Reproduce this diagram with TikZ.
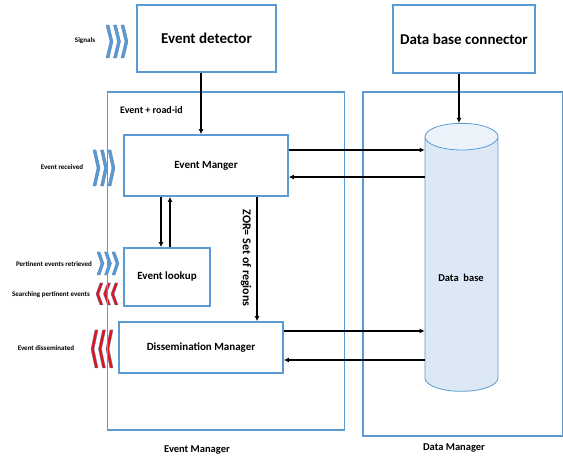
\documentclass[tikz,border=0pt]{standalone}
\usepackage{fontspec}
\setmainfont{Carlito}
\usetikzlibrary{arrows.meta,shapes.geometric}

\definecolor{frameblue}{HTML}{5B9BD5}
\definecolor{sigblue}{HTML}{5B9BD5}
\definecolor{sigred}{HTML}{E3141C}
\definecolor{sigedge}{HTML}{4A78B0}
\definecolor{dbbody}{HTML}{DCE8F5}
\definecolor{dbtop}{HTML}{EBF2FA}

\begin{document}
\begin{tikzpicture}
[x=1pt,y=-1pt,
  boxdecorate/.style={shape=rectangle,draw=frameblue,line width=1.8pt,fill=white,
    font=\bfseries\fontsize{11}{13}\selectfont},%
  bigboxdecorate/.style={boxdecorate,font=\bfseries\fontsize{15}{18}\selectfont},%
  framedecorate/.style={draw=frameblue,line width=1.8pt},%
  linedecorate/.style={-{Latex[length=5pt,width=5pt]},line width=2pt},%
  tagdecorate/.style={font=\bfseries\fontsize{7}{8}\selectfont,inner sep=0pt},%
  textdecorate/.style={font=\bfseries\fontsize{11}{13}\selectfont,inner sep=0pt}]
\useasboundingbox (0,0) rectangle (563,462);
%% signal chevrons
\foreach \x/\y/\h/\s/\c in {106/41.5/16.5/1/sigblue, 93/168/18/1/sigblue,
  97/263.5/11.5/1/sigblue, 96/294/11/-1/sigred, 91/349/19/-1/sigred} {
  \foreach \k in {0,1,2} {
    \pgfmathsetmacro\xc{\x+3.5+7.5*\k}
    \filldraw[fill=\c,draw=sigedge,line width=0.3pt]
      ({\xc-3.5*\s},{\y-\h}) -- ({\xc-0.5*\s},{\y-\h}) -- ({\xc+3.5*\s},\y)
      -- ({\xc-0.5*\s},{\y+\h}) -- ({\xc-3.5*\s},{\y+\h}) -- ({\xc+0.5*\s},\y) -- cycle;
  }
}
%% outer frames
\node (emframe) at (226,261) [framedecorate,minimum width=237pt,minimum height=338pt] {};
\node (dmframe) at (463,264) [framedecorate,minimum width=200pt,minimum height=344pt] {};
\node (emtitle) at (197,450) [textdecorate,font=\bfseries\fontsize{10.5}{12}\selectfont] {Event Manager};
\node (dmtitle) at (454,448) [textdecorate,font=\bfseries\fontsize{10.5}{12}\selectfont] {Data Manager};
%% boxes
\node (detector) at (206.5,38.5) [bigboxdecorate,minimum width=139pt,minimum height=67pt] {Event detector};
\node (connector) at (464,39) [bigboxdecorate,minimum width=142pt,minimum height=68pt] {Data base connector};
\node (manger) at (206,165.5) [boxdecorate,minimum width=164pt,minimum height=61pt] {Event Manger};
\node (lookup) at (167,277) [boxdecorate,minimum width=86pt,minimum height=58pt] {Event lookup};
\node (dissem) at (201,347.5) [boxdecorate,minimum width=164pt,minimum height=51pt] {Dissemination Manager};
\node (db) at (461.5,267) [cylinder,shape border rotate=90,draw=frameblue,line width=0.8pt,
  cylinder uses custom fill,cylinder body fill=dbbody,cylinder end fill=dbtop,
  aspect=4,minimum width=73pt,minimum height=268pt] {};
\node (dbtext) at (461,278) [textdecorate,font=\bfseries\fontsize{10.5}{12}\selectfont] {Data\ \ base};
%% texts
\node (roadid) at (120,110) [textdecorate,anchor=west,font=\bfseries\fontsize{10}{12}\selectfont] {Event + road-id};
\node (signals) at (85,41) [tagdecorate] {Signals};
\node (received) at (62,167) [tagdecorate] {Event received};
\node (retrieved) at (54,264) [tagdecorate] {Pertinent events retrieved};
\node (searching) at (51,295) [tagdecorate] {Searching pertinent events};
\node (disseminated) at (46,348) [tagdecorate] {Event disseminated};
\node (zor) at (246,258) [textdecorate,rotate=-90,font=\bfseries\fontsize{12}{14}\selectfont] {ZOR= Set of regions};
%% arrows
\draw[linedecorate] (detector.south -| 201,0) -- (manger.north -| 201,0);
\draw[linedecorate] (connector.south -| 459,0) -- (db.north -| 459,0);
\draw[linedecorate] (manger.south -| 161,0) -- (lookup.north -| 161,0);
\draw[linedecorate] (lookup.north -| 170,0) -- (manger.south -| 170,0);
\draw[linedecorate] (manger.south -| 257,0) -- (dissem.north -| 257,0);
\draw[linedecorate] (manger.east |- 0,150) -- (db.west |- 0,150);
\draw[linedecorate] (db.west |- 0,177) -- (manger.east |- 0,177);
\draw[linedecorate] (dissem.east |- 0,331) -- (db.west |- 0,331);
\draw[linedecorate] (db.west |- 0,360) -- (dissem.east |- 0,360);
\end{tikzpicture}
\end{document}
